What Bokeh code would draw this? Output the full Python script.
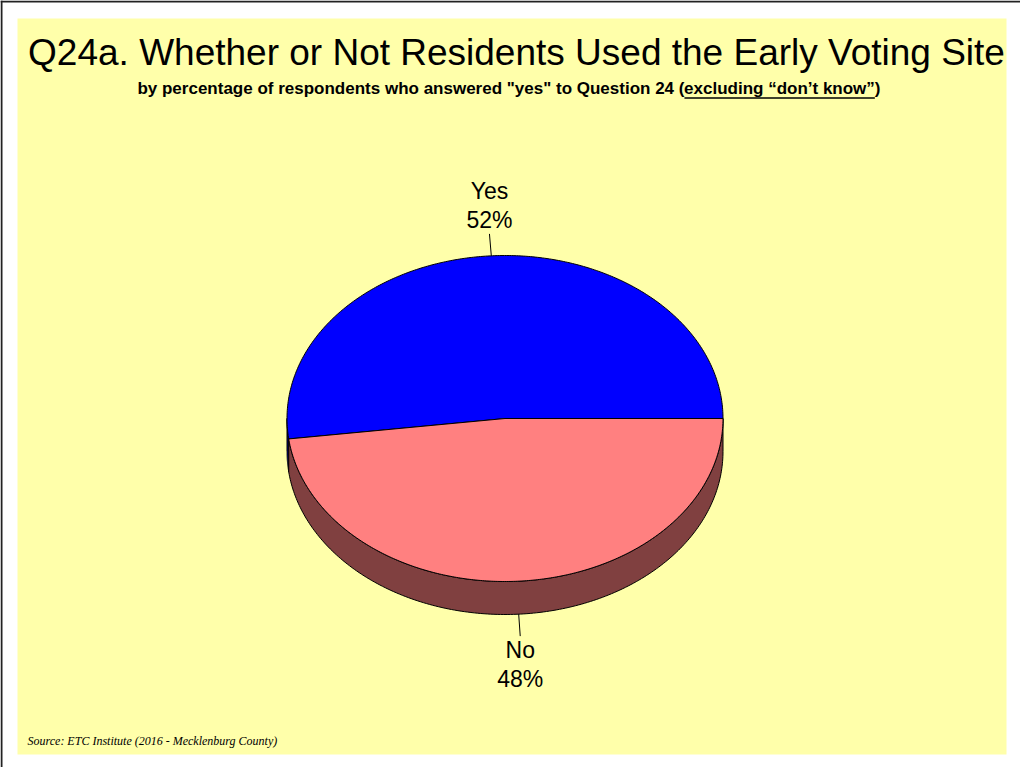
import numpy as np
from bokeh.plotting import figure
from bokeh.models import Range1d
from bokeh.core.properties import value
from bokeh.embed import file_html
from bokeh.resources import INLINE

# ---- data ----
labels = ["Yes", "No"]
values = [52, 48]
pct_labels = ["52%", "48%"]
top_colors = ["#0000FF", "#FF8080"]
side_colors = ["#00007F", "#804040"]

title = "Q24a. Whether or Not Residents Used the Early Voting Site"
sub_main = 'by percentage of respondents who answered "yes" to Question 24 ('
sub_ul = "excluding \u201cdon\u2019t know\u201d"
sub_end = ")"
source = "Source:  ETC Institute (2016 - Mecklenburg County)"

# ---- layout ----
W, H = 1020, 767
cx, cy, rx, ry, depth = 504.5, 418.0, 218.0, 163.0, 33.0
K = 0.38  # baseline compensation factor (fraction of font size)

p = figure(width=W, height=H, x_range=Range1d(0, W), y_range=Range1d(H, 0),
           output_backend="svg", toolbar_location=None, min_border=0)
p.axis.visible = False
p.grid.visible = False
p.outline_line_color = None
p.background_fill_color = "white"
p.border_fill_color = "white"

# panel
p.quad(left=17, right=1006, top=18, bottom=754, fill_color="#FFFFAA", line_color=None)
p.segment(x0=[0, 1], y0=[1, 0], x1=[W, 1], y1=[1, H], line_color="#222222", line_width=2)

def txt(x, y, s, size, align="left", font="Liberation Sans", style="normal"):
    p.text(x=x, y=[yy - K * size for yy in y], text=s, text_align=align,
           text_baseline="alphabetic", text_font=value(font), text_font_style=style,
           text_font_size=f"{size}px", text_color="black")

# ---- pie geometry ----
total = float(sum(values))
ends = np.cumsum(values) / total * 360.0
starts = np.concatenate([[0.0], ends[:-1]])

def ell(t_deg, dy=0.0):
    t = np.radians(t_deg)
    return cx + rx * np.cos(t), cy - ry * np.sin(t) + dy

side_xs, side_ys, side_fc = [], [], []
for a, b, c in zip(starts, ends, side_colors):
    lo, hi = max(a, 180.0), min(b, 360.0)
    if hi > lo:
        t = np.linspace(lo, hi, 200)
        x1, y1 = ell(t)
        x2, y2 = ell(t[::-1], depth)
        side_xs.append(list(np.concatenate([x1, x2])))
        side_ys.append(list(np.concatenate([y1, y2])))
        side_fc.append(c)
p.patches(side_xs, side_ys, fill_color=side_fc, line_color="black", line_width=1)

top_xs, top_ys = [], []
for a, b in zip(starts, ends):
    t = np.linspace(a, b, 300)
    x, y = ell(t)
    top_xs.append([cx] + list(x))
    top_ys.append([cy] + list(y))
p.patches(top_xs, top_ys, fill_color=top_colors, line_color="black", line_width=1)

# ---- labels with leaders ----
lead = 22.0
for a, b, name, pct in zip(starts, ends, labels, pct_labels):
    m = (a + b) / 2.0
    lower = np.sin(np.radians(m)) < 0
    ex, ey = ell(m, depth if lower else 0.0)
    dx, dy = ex - cx, ey - cy
    n = np.hypot(dx, dy)
    ox, oy = ex + dx / n * lead, ey + dy / n * lead
    p.segment(x0=[ex], y0=[ey], x1=[ox], y1=[oy], line_color="black", line_width=1)
    yb = [oy + 23, oy + 52] if lower else [oy - 34, oy - 5]
    txt([ox, ox], yb, [name, pct], 23, align="center")

# ---- titles ----
txt([516], [66], [title], 37, align="center")

SS = 17
r_end = 880
ul_end = r_end - 0.333 * SS
ul_start = ul_end - 11.2 * SS
txt([r_end], [94], [sub_end], SS, align="right", style="bold")
txt([ul_end], [94], [sub_ul], SS, align="right", style="bold")
txt([ul_start], [94], [sub_main], SS, align="right", style="bold")
p.segment(x0=[ul_start], y0=[97.5], x1=[ul_end], y1=[97.5], line_color="black", line_width=1.5)

txt([27], [745], [source], 12, align="left", font="Liberation Serif", style="italic")

open("out.html", "w").write(file_html(p, INLINE))
